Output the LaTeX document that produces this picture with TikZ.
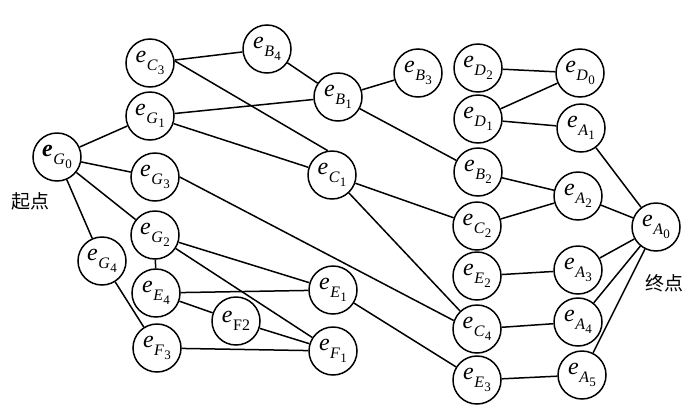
\documentclass[tikz,border=0pt]{standalone}
\usepackage{fontspec}
\setmainfont{Liberation Serif}
\newfontfamily\cjk{Noto Sans CJK SC}
\newcommand{\esub}[2]{\kern0.5pt\raisebox{-0.33em}{\fontsize{16}{16}\selectfont\textit{#1}\kern0.3pt\raisebox{-0.28em}{\fontsize{13}{13}\selectfont #2}}}
\newcommand{\ee}[2]{\textit{e}\esub{#1}{#2}}
\newcommand{\eeB}[2]{\textbf{\textit{e}}\esub{#1}{#2}}
\newcommand{\eeF}[1]{\textit{e}\kern0.5pt\raisebox{-0.33em}{\fontsize{16}{16}\selectfont #1}}
\tikzset{
  ev/.style={circle, draw, line width=1.5pt, minimum size=48pt, inner sep=0pt, fill=white,
    font=\fontsize{24}{24}\selectfont},
  lk/.style={line width=1.5pt},
  lab/.style={font=\cjk\fontsize{19}{19}\selectfont, inner sep=0pt}
}
\begin{document}
\begin{tikzpicture}[x=1pt,y=-1pt]
\useasboundingbox (0,0) rectangle (700,418);
\node[ev] (G0) at (57,157) {\eeB{G}{0}};
\node[ev] (C3) at (150,63) {\ee{C}{3}};
\node[ev] (G1) at (150,116) {\ee{G}{1}};
\node[ev] (G3) at (155,177) {\ee{G}{3}};
\node[ev] (G2) at (155,235) {\ee{G}{2}};
\node[ev] (G4) at (102,261) {\ee{G}{4}};
\node[ev] (E4) at (156,293) {\ee{E}{4}};
\node[ev] (F3) at (157,348) {\ee{F}{3}};
\node[ev] (F2) at (236,321) {\eeF{F2}};
\node[ev] (B4) at (267,49) {\ee{B}{4}};
\node[ev] (B1) at (338,97) {\ee{B}{1}};
\node[ev] (C1) at (332,175) {\ee{C}{1}};
\node[ev] (E1) at (333,290) {\ee{E}{1}};
\node[ev] (F1) at (333,351) {\ee{F}{1}};
\node[ev] (B3) at (418,73) {\ee{B}{3}};
\node[ev] (D2) at (478,68) {\ee{D}{2}};
\node[ev] (D1) at (478,119) {\ee{D}{1}};
\node[ev] (B2) at (478,172) {\ee{B}{2}};
\node[ev] (C2) at (477,226) {\ee{C}{2}};
\node[ev] (E2) at (477,276) {\ee{E}{2}};
\node[ev] (C4) at (477,329) {\ee{C}{4}};
\node[ev] (E3) at (477,380) {\ee{E}{3}};
\node[ev] (D0) at (580,73) {\ee{D}{0}};
\node[ev] (A1) at (581,128) {\ee{A}{1}};
\node[ev] (A2) at (578,196) {\ee{A}{2}};
\node[ev] (A3) at (578,270) {\ee{A}{3}};
\node[ev] (A4) at (578,322) {\ee{A}{4}};
\node[ev] (A5) at (582,375) {\ee{A}{5}};
\node[ev] (A0) at (656,227) {\ee{A}{0}};
\node[lab] (start) at (30,201) {起点};
\node[lab] (end) at (664,283) {终点};
\draw[lk] (G0) -- (G1);
\draw[lk] (G0) -- (G3);
\draw[lk] (G0) -- (G2);
\draw[lk] (G0) -- (G4);
\draw[lk] (C3) -- (B4);
\draw[lk] (C3.5) -- (C1.100);
\draw[lk] (G1) -- (B1);
\draw[lk] (G1) -- (C1);
\draw[lk] (B4) -- (B1);
\draw[lk] (B1) -- (B3);
\draw[lk] (B1) -- (B2);
\draw[lk] (C1) -- (C2);
\draw[lk] (C1) -- (C4);
\draw[lk] (G3.0) -- (C4.160);
\draw[lk] (G2) -- (E4);
\draw[lk] (G2) -- (E1);
\draw[lk] (G2) -- (F1);
\draw[lk] (G4) -- (F3);
\draw[lk] (E4) -- (E1);
\draw[lk] (E4) -- (F2);
\draw[lk] (F2) -- (F1);
\draw[lk] (F3) -- (F1);
\draw[lk] (E1) -- (E3);
\draw[lk] (D2) -- (D0);
\draw[lk] (D1) -- (D0);
\draw[lk] (D1) -- (A1);
\draw[lk] (B2) -- (A2);
\draw[lk] (C2) -- (A2);
\draw[lk] (E2) -- (A3);
\draw[lk] (C4) -- (A4);
\draw[lk] (E3) -- (A5);
\draw[lk] (A1) -- (A0);
\draw[lk] (A2) -- (A0);
\draw[lk] (A3) -- (A0);
\draw[lk] (A4) -- (A0);
\draw[lk] (A5) -- (A0);
\end{tikzpicture}
\end{document}
